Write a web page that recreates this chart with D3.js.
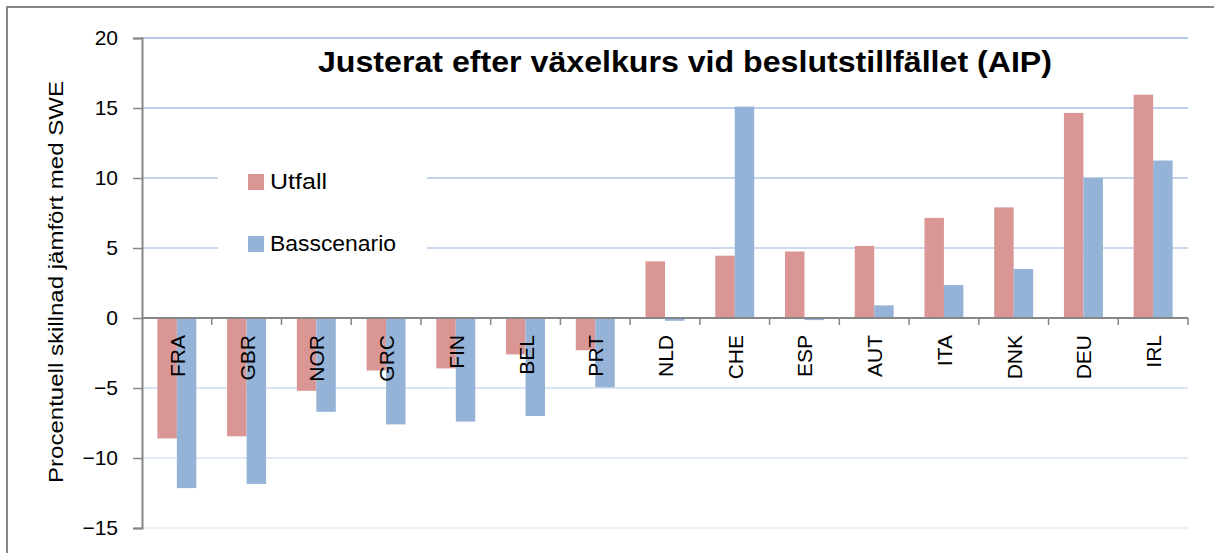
<!DOCTYPE html>
<html>
<head>
<meta charset="utf-8">
<script src="https://cdn.jsdelivr.net/npm/d3@7"></script>
<style>
  body { margin: 0; background: #fff; }
  text { font-family: "Liberation Sans", Arial, sans-serif; fill: #000; }
</style>
</head>
<body>
<div id="vis"></div>
<script>
const countries = ["FRA", "GBR", "NOR", "GRC", "FIN", "BEL", "PRT", "NLD", "CHE", "ESP", "AUT", "ITA", "DNK", "DEU", "IRL"];
const utfall = [-8.6, -8.45, -5.2, -3.75, -3.6, -2.6, -2.3, 4.05, 4.45, 4.75, 5.15, 7.15, 7.9, 14.65, 15.95];
const basscenario = [-12.15, -11.85, -6.7, -7.6, -7.4, -7.0, -4.95, -0.2, 15.1, -0.15, 0.9, 2.35, 3.5, 10.0, 11.25];
const seriesNames = ["Utfall", "Basscenario"];
const seriesColors = ["#D99694", "#95B3D7"];
const yTicks = [-15, -10, -5, 0, 5, 10, 15, 20];

const W = 1214, H = 553;
const plot = {left: 142, right: 1188, top: 38, bottom: 528};

const svg = d3.select('#vis')
    .append('svg')
    .attr('width', W)
    .attr('height', H);

// outer frame (runs past the right and bottom edge)
svg.append('rect')
    .attr('x', 7).attr('y', 7)
    .attr('width', W + 20).attr('height', H + 20)
    .attr('fill', '#fff')
    .attr('stroke', '#868686')
    .attr('stroke-width', 2);

const x = d3.scaleBand()
    .domain(countries)
    .range([plot.left, plot.right])
    .paddingInner(0).paddingOuter(0);

const x1 = d3.scaleBand()
    .domain(seriesNames)
    .range([0, x.bandwidth()])
    .paddingInner(0).paddingOuter(0.79);

const y = d3.scaleLinear()
    .domain([-15, 20])
    .range([plot.bottom, plot.top]);

const gridColor = d3.scaleLinear()
    .domain([20, -15])
    .range(["#9cb7e1", "#e2eaf7"])
    .interpolate(d3.interpolateRgb);

// gridlines
svg.append('g')
    .selectAll('line')
    .data(yTicks.filter(d => d !== 0))
    .join('line')
    .attr('x1', plot.left).attr('x2', plot.right)
    .attr('y1', d => y(d)).attr('y2', d => y(d))
    .attr('stroke', d => gridColor(d))
    .attr('stroke-width', 1.5);

// bars
const rows = countries.map((c, i) => ({country: c, values: [utfall[i], basscenario[i]]}));

svg.append('g')
    .selectAll('g')
    .data(rows)
    .join('g')
    .attr('transform', d => `translate(${x(d.country)},0)`)
    .selectAll('rect')
    .data(d => d.values.map((v, k) => ({series: seriesNames[k], value: v, color: seriesColors[k]})))
    .join('rect')
    .attr('x', d => x1(d.series))
    .attr('width', x1.bandwidth())
    .attr('y', d => y(Math.max(0, d.value)))
    .attr('height', d => Math.abs(y(d.value) - y(0)))
    .attr('fill', d => d.color);

// y axis
const yAxis = svg.append('g')
    .attr('transform', `translate(${plot.left},0)`)
    .call(d3.axisLeft(y).tickValues(yTicks).tickSize(9).tickPadding(15));
yAxis.select('.domain').attr('stroke', '#868686').attr('stroke-width', 2);
yAxis.selectAll('.tick line').attr('stroke', '#868686').attr('stroke-width', 1.5);
yAxis.selectAll('.tick text')
    .style('font-size', '21px')
    .style('font-family', '"Liberation Sans", Arial, sans-serif')
    .attr('fill', '#000');

// x axis at zero
const xAxisG = svg.append('g').attr('transform', `translate(0,${y(0)})`);
xAxisG.append('line')
    .attr('x1', plot.left).attr('x2', plot.right)
    .attr('stroke', '#868686').attr('stroke-width', 2);
xAxisG.selectAll('line.tk')
    .data(countries)
    .join('line')
    .attr('class', 'tk')
    .attr('x1', d => x(d) + x.bandwidth()).attr('x2', d => x(d) + x.bandwidth())
    .attr('y1', 0).attr('y2', 7)
    .attr('stroke', '#868686').attr('stroke-width', 1.5);

// category labels, rotated
svg.append('g')
    .selectAll('text')
    .data(countries)
    .join('text')
    .attr('transform', d => `translate(${x(d) + x.bandwidth() / 2 + 8},${y(0) + 17}) rotate(-90)`)
    .attr('text-anchor', 'end')
    .style('font-size', '21px')
    .text(d => d);

// y axis title
svg.append('text')
    .attr('transform', 'translate(63,282) rotate(-90)')
    .attr('text-anchor', 'middle')
    .attr('textLength', 402)
    .attr('lengthAdjust', 'spacingAndGlyphs')
    .style('font-size', '21px')
    .text('Procentuell skillnad jämfört med SWE');

// chart title
svg.append('text')
    .attr('x', 685)
    .attr('y', 72)
    .attr('text-anchor', 'middle')
    .attr('textLength', 734)
    .attr('lengthAdjust', 'spacingAndGlyphs')
    .style('font-size', '30px')
    .style('font-weight', 'bold')
    .text('Justerat efter växelkurs vid beslutstillfället (AIP)');

// legend
const legend = svg.append('g');
legend.append('rect')
    .attr('x', 218).attr('y', 150)
    .attr('width', 209).attr('height', 130)
    .attr('fill', '#fff');
const legendY = [174, 236];
const legendW = [57, 126];
seriesNames.forEach((name, k) => {
    legend.append('rect')
        .attr('x', 248).attr('y', legendY[k])
        .attr('width', 16).attr('height', 16)
        .attr('fill', seriesColors[k]);
    legend.append('text')
        .attr('x', 270).attr('y', legendY[k] + 15)
        .attr('textLength', legendW[k])
        .attr('lengthAdjust', 'spacingAndGlyphs')
        .style('font-size', '22px')
        .text(name);
});
</script>
</body>
</html>
